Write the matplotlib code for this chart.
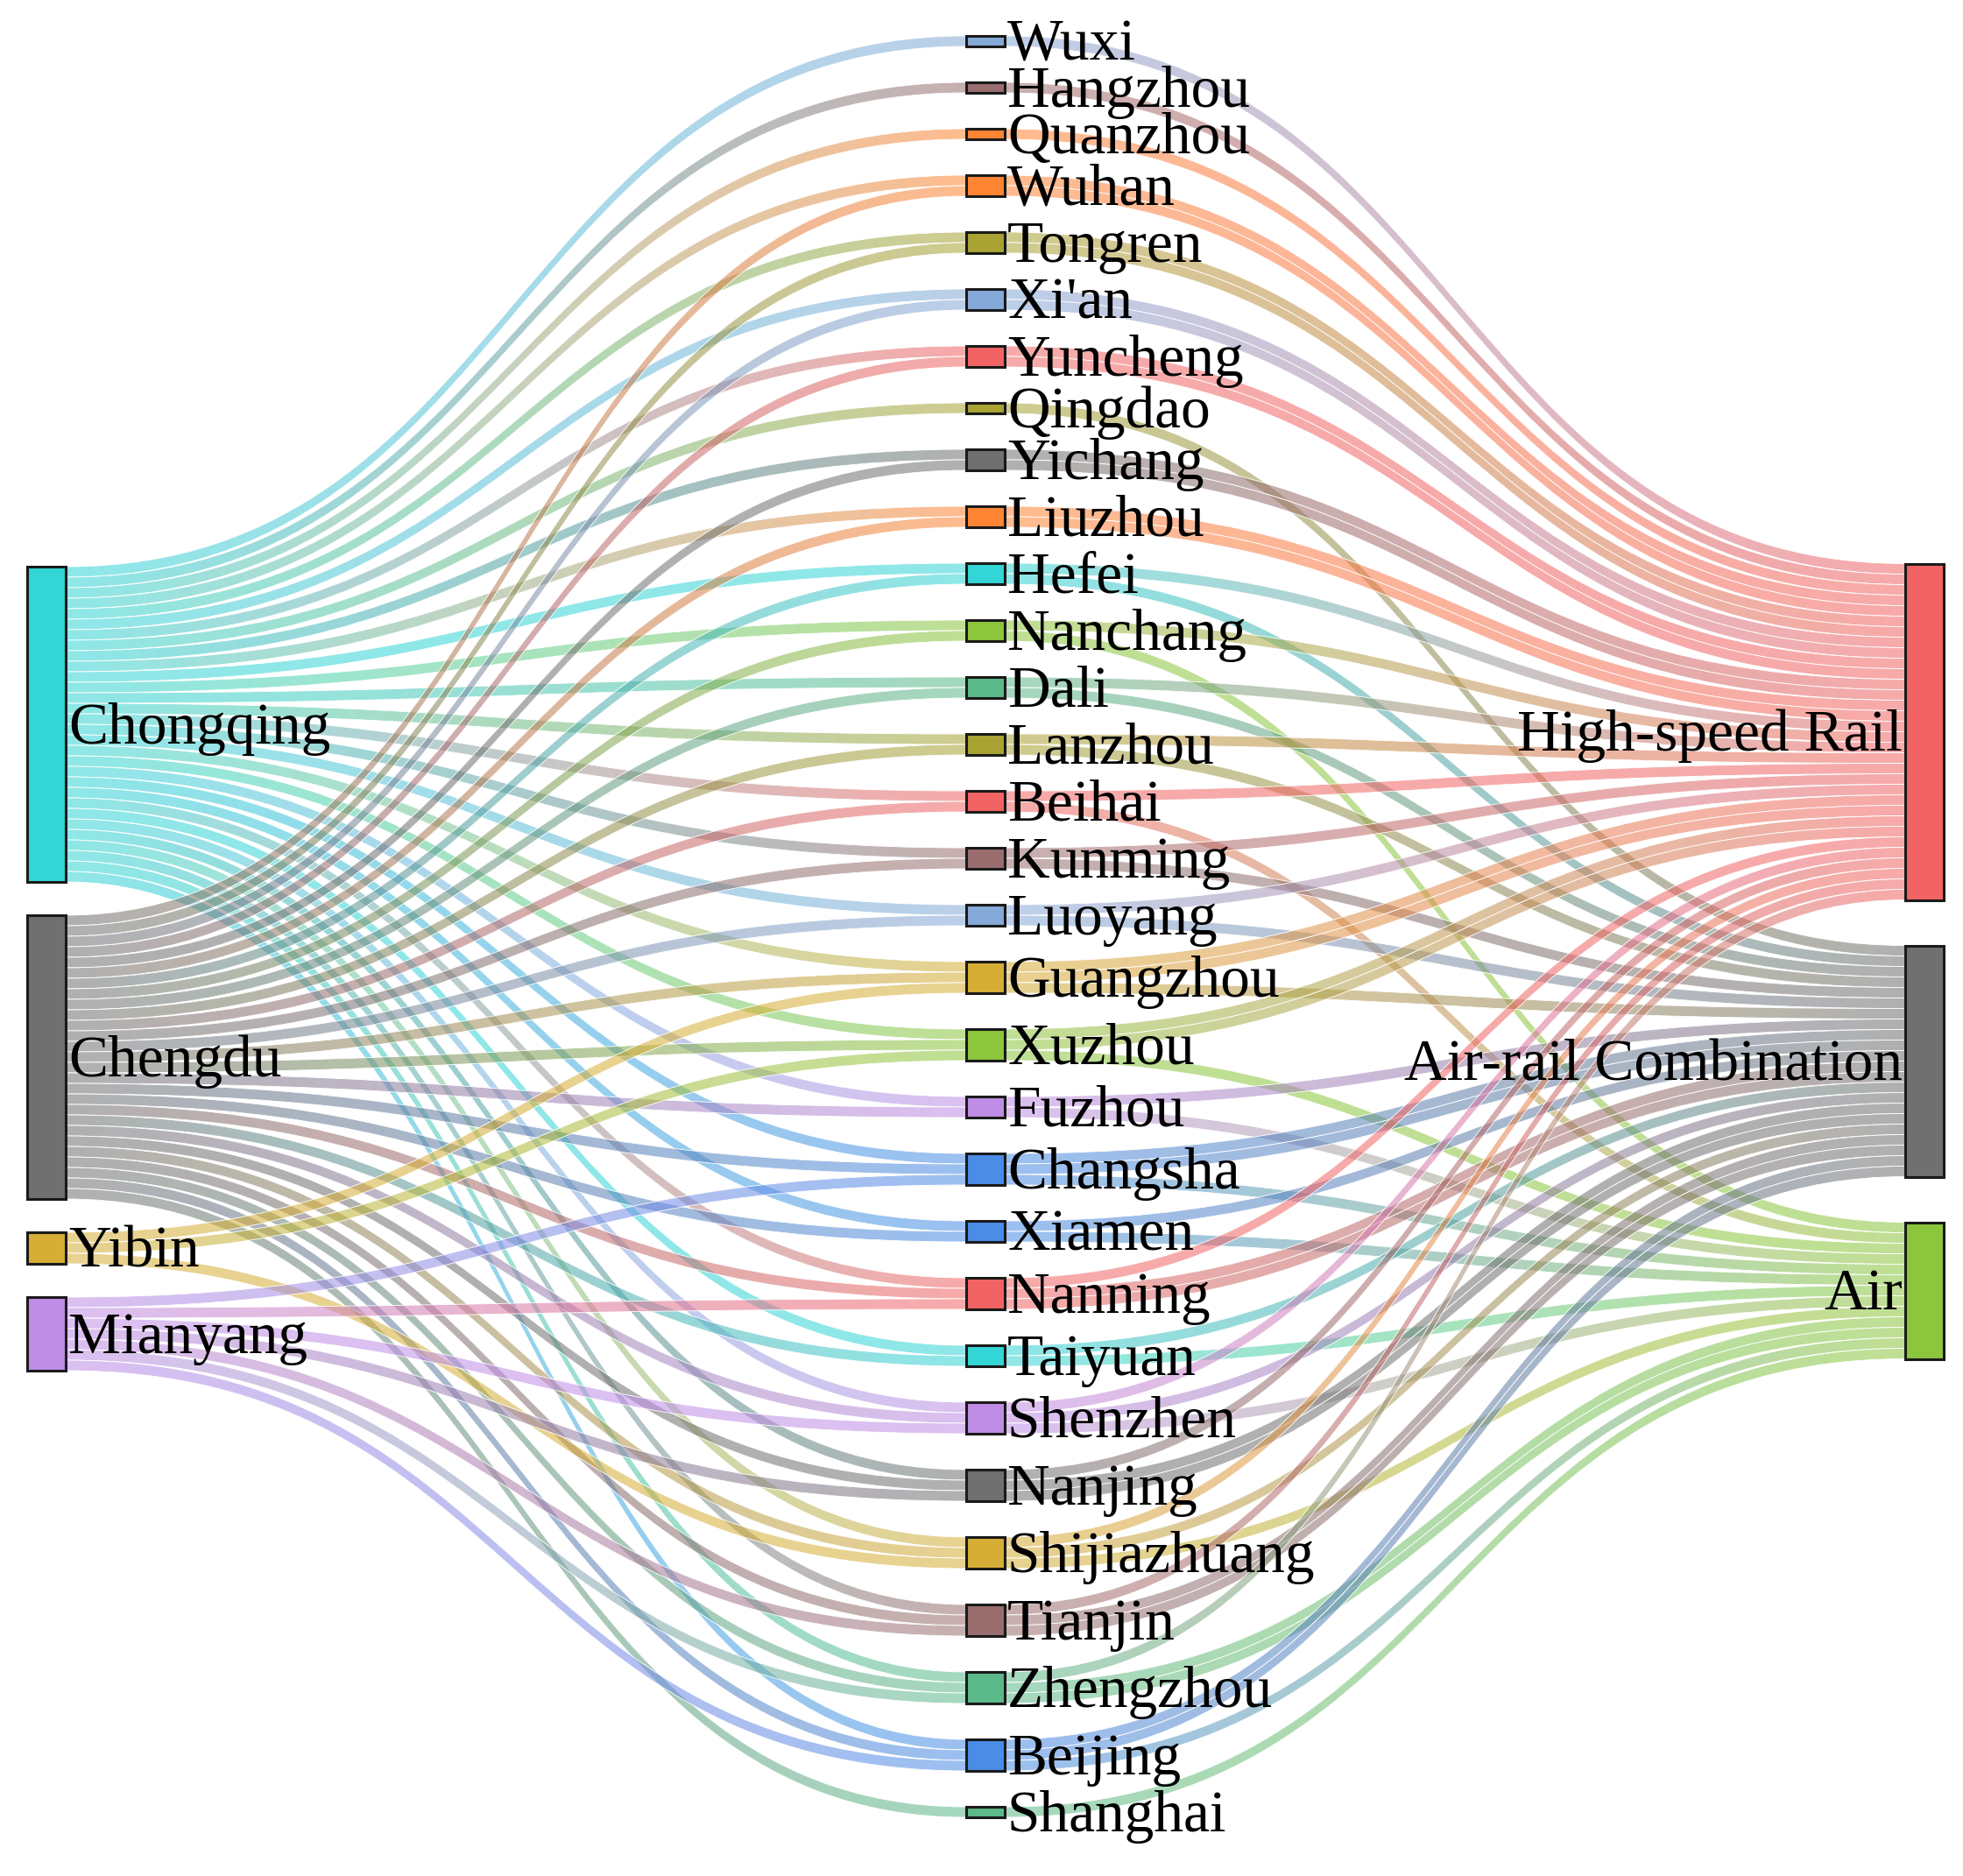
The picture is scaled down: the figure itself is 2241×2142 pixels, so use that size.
import numpy as np
import matplotlib
matplotlib.use('Agg')
import matplotlib.pyplot as plt
from matplotlib.path import Path
from matplotlib.patches import PathPatch, Rectangle
from matplotlib.colors import to_rgb

# ---- data -------------------------------------------------------------
origins = ['Chongqing', 'Chengdu', 'Yibin', 'Mianyang']
modes = ['High-speed Rail', 'Air-rail Combination', 'Air']
cities = ['Wuxi', 'Hangzhou', 'Quanzhou', 'Wuhan', 'Tongren', "Xi'an",
          'Yuncheng', 'Qingdao', 'Yichang', 'Liuzhou', 'Hefei', 'Nanchang',
          'Dali', 'Lanzhou', 'Beihai', 'Kunming', 'Luoyang', 'Guangzhou',
          'Xuzhou', 'Fuzhou', 'Changsha', 'Xiamen', 'Nanning', 'Taiyuan',
          'Shenzhen', 'Nanjing', 'Shijiazhuang', 'Tianjin', 'Zhengzhou',
          'Beijing', 'Shanghai']

# routes from each origin to each city (same order as cities)
from_chongqing = [1, 1, 1, 1, 1, 1, 1, 1, 1, 1, 1, 1, 1, 1, 1, 1,
                  1, 1, 1, 1, 1, 1, 1, 1, 1, 1, 1, 1, 1, 1, 0]
from_chengdu = [0, 0, 0, 1, 1, 1, 1, 0, 1, 1, 1, 1, 1, 1, 1, 1,
                1, 1, 1, 1, 1, 1, 1, 1, 1, 1, 1, 1, 1, 1, 1]
from_yibin = [0, 0, 0, 0, 0, 0, 0, 0, 0, 0, 0, 0, 0, 0, 0, 0,
              0, 1, 1, 0, 0, 0, 0, 0, 0, 0, 1, 0, 0, 0, 0]
from_mianyang = [0, 0, 0, 0, 0, 0, 0, 0, 0, 0, 0, 0, 0, 0, 0, 0,
                 0, 0, 0, 0, 1, 0, 1, 0, 1, 1, 0, 1, 1, 1, 0]

# routes from each city to each travel mode
to_hsr = [1, 1, 1, 2, 2, 2, 2, 0, 2, 2, 1, 1, 1, 1, 1, 1,
          1, 2, 2, 0, 0, 0, 1, 0, 1, 1, 1, 1, 1, 0, 0]
to_arc = [0, 0, 0, 0, 0, 0, 0, 1, 0, 0, 1, 0, 1, 1, 0, 1,
          1, 1, 0, 1, 2, 1, 2, 1, 1, 2, 1, 2, 0, 2, 0]
to_air = [0, 0, 0, 0, 0, 0, 0, 0, 0, 0, 0, 1, 0, 0, 1, 0,
          0, 0, 1, 1, 1, 1, 0, 1, 1, 0, 1, 0, 2, 1, 1]

origin_colors = ['#33d5d6', '#707070', '#d6ad35', '#bf8de6']
mode_colors = ['#f26464', '#707070', '#8cc63c']
city_colors = ['#85a9d9', '#9a6e6e', '#ff8533', '#ff8533', '#a8a333',
               '#85a9d9', '#f26464', '#a8a333', '#707070', '#ff8533',
               '#33d5d6', '#8cc63c', '#5bb98a', '#a8a333', '#f26464',
               '#9a6e6e', '#85a9d9', '#d6ad35', '#8cc63c', '#bf8de6',
               '#4a8ce6', '#4a8ce6', '#f26464', '#33d5d6', '#bf8de6',
               '#707070', '#d6ad35', '#9a6e6e', '#5bb98a', '#4a8ce6',
               '#5bb98a']

# ---- layout -------------------------------------------------------------
W, H = 2241, 2142
UNIT = 12.0
NODE_W = 44
X_LEFT, X_MID, X_RIGHT = 31, 1103, 2175
ALPHA = 0.55
FONT = 'Liberation Serif'
FS = 48.5

from_origin = [from_chongqing, from_chengdu, from_yibin, from_mianyang]
to_mode = [to_hsr, to_arc, to_air]

origin_val = [sum(v) for v in from_origin]
mode_val = [sum(v) for v in to_mode]
city_val = [sum(v[c] for v in from_origin) for c in range(len(cities))]


def stack(values, center, pad):
    h = np.array(values, dtype=float) * UNIT
    total = h.sum() + pad * (len(values) - 1)
    tops = center - total / 2 + np.concatenate([[0], np.cumsum(h[:-1] + pad)])
    return tops, h


o_top, o_h = stack(origin_val, 1106, 38)
c_top, c_h = stack(city_val, 1058, 41)
m_top, m_h = stack(mode_val, 1097.5, 52)

# ---- strands ------------------------------------------------------------
left = [(o, c, k) for o in range(len(origins)) for c in range(len(cities))
        for k in range(from_origin[o][c])]
right = [(c, m, k) for c in range(len(cities)) for m in range(len(modes))
         for k in range(to_mode[m][c])]


def offsets(links, src_top, dst_top):
    y_src, y_dst = {}, {}
    cur = dict(enumerate(src_top))
    for ln in sorted(links, key=lambda t: (t[0], t[1], t[2])):
        y_src[ln] = cur[ln[0]]
        cur[ln[0]] += UNIT
    cur = dict(enumerate(dst_top))
    for ln in sorted(links, key=lambda t: (t[1], t[0], t[2])):
        y_dst[ln] = cur[ln[1]]
        cur[ln[1]] += UNIT
    return y_src, y_dst


fig = plt.figure(figsize=(W / 100, H / 100), dpi=100)
ax = fig.add_axes([0, 0, 1, 1])
ax.set_xlim(0, W)
ax.set_ylim(H, 0)
ax.axis('off')


def draw_strand(x0, y0, x1, y1, c0, c1, z):
    xm = (x0 + x1) / 2
    verts = [(x0, y0), (xm, y0), (xm, y1), (x1, y1),
             (x1, y1 + UNIT), (xm, y1 + UNIT), (xm, y0 + UNIT), (x0, y0 + UNIT),
             (x0, y0)]
    codes = [Path.MOVETO, Path.CURVE4, Path.CURVE4, Path.CURVE4,
             Path.LINETO, Path.CURVE4, Path.CURVE4, Path.CURVE4,
             Path.CLOSEPOLY]
    patch = PathPatch(Path(verts, codes), facecolor='none', edgecolor='white',
                      lw=0.6, zorder=z + 0.5)
    ax.add_patch(patch)
    t = np.linspace(0, 1, 128)[:, None]
    rgb = (1 - t) * np.array(to_rgb(c0)) + t * np.array(to_rgb(c1))
    img = np.concatenate([rgb, np.full((128, 1), ALPHA)], axis=1)[None, :, :]
    ymin, ymax = min(y0, y1), max(y0, y1) + UNIT
    im = ax.imshow(img, extent=(x0, x1, ymax, ymin), aspect='auto',
                   interpolation='bilinear', zorder=z)
    im.set_clip_path(patch)


z = 1
ys, yd = offsets(left, o_top, c_top)
for ln in left:
    o, c, k = ln
    draw_strand(X_LEFT + NODE_W, ys[ln], X_MID, yd[ln],
                origin_colors[o], city_colors[c], z)
    z += 1

ys, yd = offsets(right, c_top, m_top)
for ln in right:
    c, m, k = ln
    draw_strand(X_MID + NODE_W, ys[ln], X_RIGHT, yd[ln],
                city_colors[c], mode_colors[m], z)
    z += 1

ax.set_xlim(0, W)
ax.set_ylim(H, 0)

# ---- nodes and labels ---------------------------------------------------
def draw_nodes(x, tops, heights, names, colors, side):
    for top, h, name, col in zip(tops, heights, names, colors):
        ax.add_patch(Rectangle((x, top), NODE_W, h, facecolor=col,
                               edgecolor='#1a1a1a', lw=2.2, zorder=500))
        yb = top + h / 2 + 0.32 * FS * 100 / 72
        if side == 'right':
            ax.text(x + NODE_W + 3, yb, name, ha='left', va='baseline',
                    fontsize=FS, family=FONT, color='black', zorder=600)
        else:
            ax.text(x - 3, yb, name, ha='right', va='baseline',
                    fontsize=FS, family=FONT, color='black', zorder=600)


draw_nodes(X_LEFT, o_top, o_h, origins, origin_colors, 'right')
draw_nodes(X_MID, c_top, c_h, cities, city_colors, 'right')
draw_nodes(X_RIGHT, m_top, m_h, modes, mode_colors, 'left')

fig.savefig('out.png', dpi=100, facecolor='white')
